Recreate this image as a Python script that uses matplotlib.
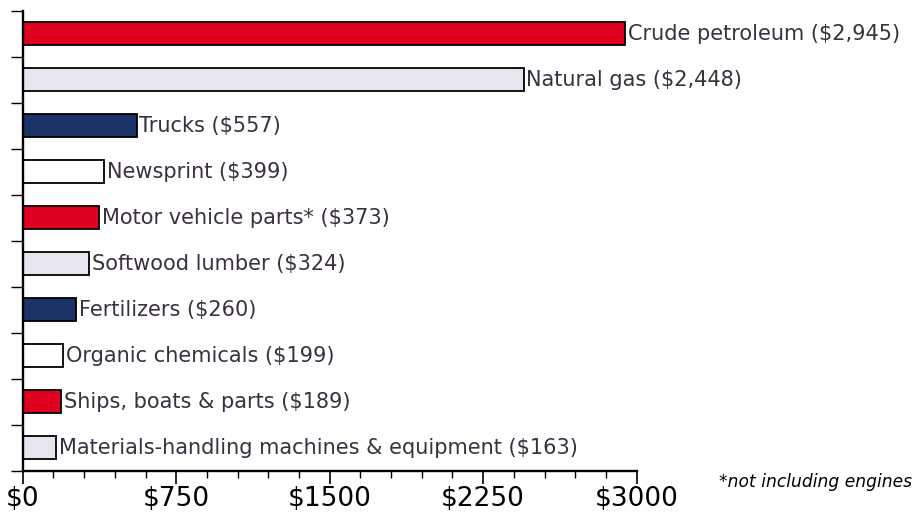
import matplotlib.pyplot as plt
from matplotlib.ticker import MultipleLocator

# Canadian exports, millions of dollars
products = ['Crude petroleum', 'Natural gas', 'Trucks', 'Newsprint',
            'Motor vehicle parts*', 'Softwood lumber', 'Fertilizers',
            'Organic chemicals', 'Ships, boats & parts',
            'Materials-handling machines & equipment']
values = [2945, 2448, 557, 399, 373, 324, 260, 199, 189, 163]
colors = ['#E0001F', '#E6E6EE', '#1B3366', '#FFFFFF'] * 3
x_ticks = [0, 750, 1500, 2250, 3000]
x_labels = ['$0', '$750', '$1500', '$2250', '$3000']

fig = plt.figure(figsize=(9.2, 5.16), dpi=100)
ax = fig.add_axes([0.0247, 0.0878, 0.6673, 0.8915])

n = len(values)
ypos = [n - 0.5 - i for i in range(n)]
ax.barh(ypos, values, height=0.5, color=colors[:n], edgecolor='black', linewidth=1.3)

text_color = '#3A3040'
for y, v, name in zip(ypos, values, products):
    ax.annotate(f'{name} (${v:,})', xy=(v, y), xytext=(2, 0), textcoords='offset points',
                ha='left', va='center', fontsize=15, color=text_color, annotation_clip=False)

ax.set_xlim(0, 3000)
ax.set_ylim(0, n)
ax.set_xticks(x_ticks)
ax.set_xticklabels(x_labels, fontsize=19, color='black')
ax.xaxis.set_minor_locator(MultipleLocator(150))
ax.set_yticks(range(n + 1))
ax.set_yticklabels([])

ax.tick_params(axis='x', which='major', direction='out', length=9, width=1.2, pad=2)
ax.tick_params(axis='x', which='minor', direction='out', length=5, width=1.0)
ax.tick_params(axis='y', which='major', direction='out', length=9, width=1.0)

for side in ['top', 'right']:
    ax.spines[side].set_visible(False)
for side in ['left', 'bottom']:
    ax.spines[side].set_linewidth(1.7)

fig.text(0.991, 0.066, '*not including engines', ha='right', va='center',
         fontsize=12.3, style='italic', color='black')

fig.savefig('out.png', dpi=100)
